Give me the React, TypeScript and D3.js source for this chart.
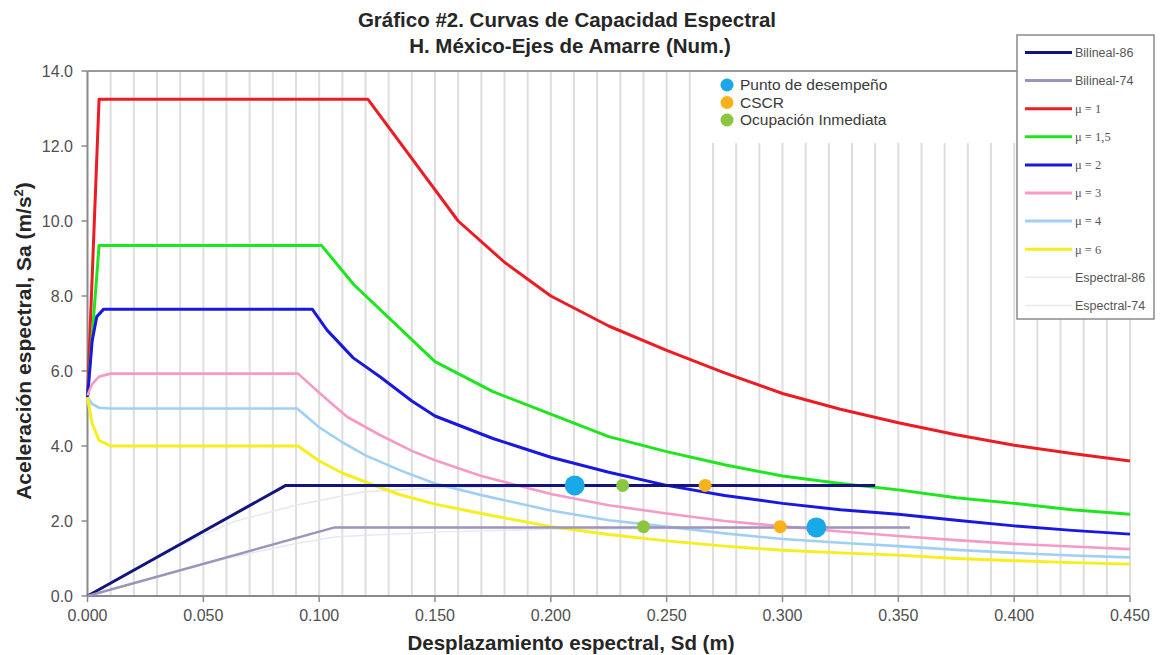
import React from "react";
import * as d3 from "d3";

type P = [number, number];

const xTicks = [0, 0.05, 0.1, 0.15, 0.2, 0.25, 0.3, 0.35, 0.4, 0.45];
const yTicks = [0, 2, 4, 6, 8, 10, 12, 14];
const gridX = d3.range(1, 46).map((i) => i / 100);

const mu1: P[] = [[0, 5.3], [0.005, 13.25], [0.121, 13.25], [0.16, 10.0], [0.18, 8.9], [0.2, 8.0], [0.225, 7.2], [0.25, 6.55], [0.275, 5.95], [0.3, 5.4], [0.325, 4.98], [0.35, 4.62], [0.375, 4.3], [0.4, 4.02], [0.425, 3.8], [0.45, 3.6]];
const mu15: P[] = [[0, 5.3], [0.005, 9.35], [0.101, 9.35], [0.115, 8.3], [0.15, 6.25], [0.175, 5.45], [0.2, 4.85], [0.225, 4.25], [0.25, 3.85], [0.275, 3.5], [0.3, 3.2], [0.325, 3.0], [0.35, 2.83], [0.375, 2.62], [0.4, 2.47], [0.425, 2.3], [0.45, 2.18]];
const mu2: P[] = [[0, 5.3], [0.002, 6.8], [0.004, 7.45], [0.007, 7.65], [0.097, 7.65], [0.1034, 7.09], [0.1147, 6.35], [0.1264, 5.84], [0.14, 5.2], [0.15, 4.8], [0.175, 4.2], [0.2, 3.7], [0.225, 3.3], [0.25, 2.95], [0.275, 2.68], [0.3, 2.47], [0.325, 2.3], [0.35, 2.18], [0.375, 2.02], [0.4, 1.87], [0.425, 1.75], [0.45, 1.65]];
const mu3: P[] = [[0, 5.35], [0.002, 5.65], [0.005, 5.85], [0.01, 5.93], [0.0909, 5.93], [0.1004, 5.4], [0.112, 4.78], [0.126, 4.3], [0.14, 3.87], [0.15, 3.62], [0.17, 3.2], [0.2, 2.72], [0.225, 2.42], [0.25, 2.2], [0.275, 2.0], [0.3, 1.86], [0.325, 1.72], [0.35, 1.6], [0.375, 1.49], [0.4, 1.39], [0.425, 1.32], [0.45, 1.25]];
const mu4: P[] = [[0, 5.3], [0.002, 5.12], [0.005, 5.02], [0.01, 5.0], [0.0905, 5.0], [0.1, 4.5], [0.11, 4.1], [0.12, 3.75], [0.135, 3.35], [0.15, 3.0], [0.17, 2.69], [0.2, 2.28], [0.225, 2.02], [0.25, 1.85], [0.275, 1.67], [0.3, 1.52], [0.325, 1.42], [0.35, 1.33], [0.375, 1.23], [0.4, 1.15], [0.425, 1.08], [0.45, 1.03]];
const mu6: P[] = [[0, 5.3], [0.002, 4.6], [0.005, 4.15], [0.01, 4.0], [0.0909, 4.0], [0.1, 3.6], [0.11, 3.28], [0.1234, 2.96], [0.135, 2.7], [0.15, 2.45], [0.17, 2.2], [0.2, 1.85], [0.225, 1.64], [0.25, 1.47], [0.275, 1.33], [0.3, 1.22], [0.325, 1.15], [0.35, 1.09], [0.375, 1.0], [0.4, 0.94], [0.425, 0.89], [0.45, 0.85]];
const bil86: P[] = [[0, 0], [0.0856, 2.95], [0.34, 2.95]];
const bil74: P[] = [[0, 0], [0.1067, 1.83], [0.355, 1.83]];
const esp86: P[] = [[0, 0], [0.04, 1.35], [0.063, 1.98], [0.09, 2.42], [0.119, 2.78], [0.15, 2.88], [0.2, 2.93], [0.34, 2.95]];
const esp74: P[] = [[0, 0], [0.06, 1.0], [0.09, 1.4], [0.1075, 1.58], [0.153, 1.71], [0.2, 1.78], [0.355, 1.82]];

const desempeno: P[] = [[0.2103, 2.95], [0.3146, 1.83]];
const cscr: P[] = [[0.2666, 2.95], [0.299, 1.85]];
const ocupacion: P[] = [[0.231, 2.95], [0.24, 1.85]];

const seriesNames = ["Bilineal-86", "Bilineal-74", "μ = 1", "μ = 1,5", "μ = 2", "μ = 3", "μ = 4", "μ = 6", "Espectral-86", "Espectral-74"];
const seriesData = [bil86, bil74, mu1, mu15, mu2, mu3, mu4, mu6, esp86, esp74];
const seriesColors = ["#14147e", "#9d93bb", "#ec1c24", "#1ee61e", "#1818e0", "#f59ac6", "#9fd0f4", "#f6ee1e", "#e4e9f1", "#e4e9f1"];
const seriesWidths = [3, 2.5, 3, 3, 3, 2.6, 2.6, 3, 1.5, 1.5];
const drawOrder = [8, 9, 2, 3, 4, 5, 6, 7, 0, 1];

const pointNames = ["Punto de desempeño", "CSCR", "Ocupación Inmediata"];
const pointColors = ["#19a9e8", "#f7b21a", "#8cc63f"];
const pointSets = [desempeno, cscr, ocupacion];
const pointR = [10, 6.5, 6.5];

export default function App() {
  const x = d3.scaleLinear().domain([0, 0.45]).range([87.5, 1130]);
  const y = d3.scaleLinear().domain([0, 14]).range([596, 71]);
  const line = d3.line<P>().x((d) => x(d[0])).y((d) => y(d[1]));
  const font = "Arial, 'Liberation Sans', sans-serif";
  return (
    <svg width={1160} height={655} style={{ position: "absolute", left: 0, top: 0, background: "#fff" }}>
      <rect width={1160} height={655} fill="#fff" />
      {gridX.map((g) => (
        <line key={g} x1={x(g)} x2={x(g)} y1={y(14)} y2={y(0)} stroke="#dedede" strokeWidth={2} />
      ))}
      <rect x={700} y={72} width={317} height={71} fill="#fff" />
      <line x1={x(0)} x2={1017} y1={y(14)} y2={y(14)} stroke="#9a9a9a" strokeWidth={2} />
      <line x1={x(0)} x2={x(0)} y1={y(14)} y2={y(0)} stroke="#8a8a8a" strokeWidth={2} />
      <line x1={x(0)} x2={x(0.45)} y1={y(0)} y2={y(0)} stroke="#8a8a8a" strokeWidth={2} />
      {yTicks.map((t) => (
        <g key={t}>
          <line x1={x(0) - 6} x2={x(0)} y1={y(t)} y2={y(t)} stroke="#8a8a8a" strokeWidth={1.5} />
          <text x={73} y={y(t)} dy="0.35em" textAnchor="end" fontFamily={font} fontSize={16} fill="#505050">
            {t.toFixed(1)}
          </text>
        </g>
      ))}
      {xTicks.map((t) => (
        <g key={t}>
          <line x1={x(t)} x2={x(t)} y1={y(0)} y2={y(0) + 6} stroke="#8a8a8a" strokeWidth={1.5} />
          <text x={x(t)} y={615} dy="0.35em" textAnchor="middle" fontFamily={font} fontSize={16} fill="#505050">
            {t.toFixed(3)}
          </text>
        </g>
      ))}
      {drawOrder.map((i) => (
        <path key={seriesNames[i]} d={line(seriesData[i]) || ""} fill="none" stroke={seriesColors[i]} strokeWidth={seriesWidths[i]} strokeLinejoin="round" />
      ))}
      {pointSets.map((set, k) =>
        set.map((p, j) => <circle key={k + "-" + j} cx={x(p[0])} cy={y(p[1])} r={pointR[k]} fill={pointColors[k]} />)
      )}
      {pointNames.map((n, k) => (
        <g key={n}>
          <circle cx={727} cy={85 + k * 17.5} r={6.5} fill={pointColors[k]} />
          <text x={740} y={85 + k * 17.5} dy="0.35em" fontFamily={font} fontSize={15.5} fill="#3a3a3a">
            {n}
          </text>
        </g>
      ))}
      <rect x={1017} y={35} width={137} height={284} fill="#fff" stroke="#8a8a8a" strokeWidth={1.5} />
      {seriesNames.map((n, i) => {
        const ly = 52.5 + i * 28.1;
        const isMu = n.startsWith("μ");
        return (
          <g key={n}>
            <line x1={1025} x2={1072} y1={ly} y2={ly} stroke={seriesColors[i] === "#e4e9f1" ? "#e8ebf0" : seriesColors[i]} strokeWidth={seriesWidths[i] > 2 ? 3 : 1.5} />
            <text x={1075} y={ly} dy="0.35em" fontFamily={isMu ? "'Liberation Serif', 'Times New Roman', serif" : font} fontSize={12.5} fill="#555">
              {n}
            </text>
          </g>
        );
      })}
      <text x={567} y={20} dy="0.35em" textAnchor="middle" fontFamily={font} fontWeight="bold" fontSize={20.5} fill="#262626">
        Gráfico #2. Curvas de Capacidad Espectral
      </text>
      <text x={570} y={46} dy="0.35em" textAnchor="middle" fontFamily={font} fontWeight="bold" fontSize={20.5} fill="#262626">
        H. México-Ejes de Amarre (Num.)
      </text>
      <text x={571} y={643} dy="0.35em" textAnchor="middle" fontFamily={font} fontWeight="bold" fontSize={20.5} fill="#262626">
        Desplazamiento espectral, Sd (m)
      </text>
      <text transform={`translate(24,341) rotate(-90)`} dy="0.35em" textAnchor="middle" fontFamily={font} fontWeight="bold" fontSize={21} fill="#262626">
        Aceleración espectral, Sa (m/s<tspan dy="-8" fontSize={13}>2</tspan><tspan dy="8">)</tspan>
      </text>
    </svg>
  );
}
